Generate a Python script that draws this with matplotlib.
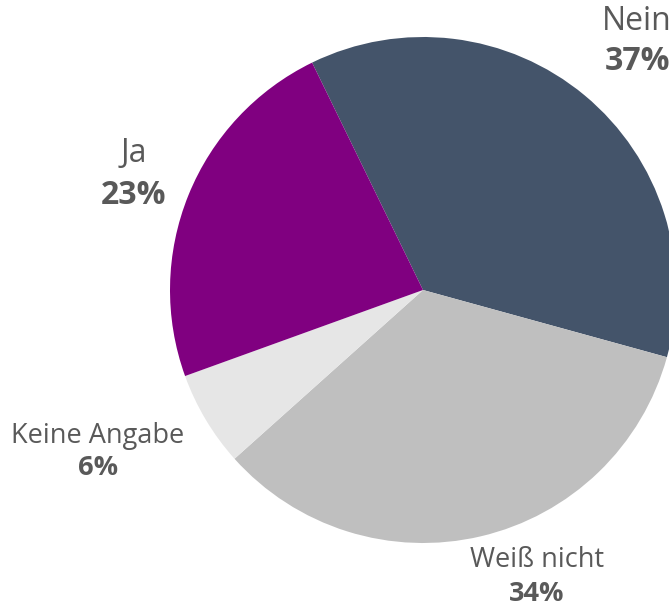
import matplotlib
matplotlib.use("Agg")
import matplotlib.pyplot as plt

categories = ["Nein", "Weiß nicht", "Keine Angabe", "Ja"]
values = [36.5, 34.1, 6.1, 23.3]
pct_labels = ["37%", "34%", "6%", "23%"]
colors = ["#44546A", "#BFBFBF", "#E6E6E6", "#800080"]

W, H = 669, 608
fig = plt.figure(figsize=(W / 100, H / 100), dpi=100)
ax = fig.add_axes([0, 0, 1, 1])

cx, cy, r = 423, H - 290, 253
ax.pie(values, colors=colors, startangle=116, counterclock=False,
       center=(cx, cy), radius=r, frame=True,
       wedgeprops=dict(linewidth=0))
ax.set_xlim(0, W)
ax.set_ylim(0, H)
ax.set_aspect("equal")
ax.axis("off")

# x, y of category, y of percentage, font size
label_pos = {
    "Nein": (637, 21, 62, 23),
    "Weiß nicht": (537, 560, 594, 19.5),
    "Keine Angabe": (98, 436, 468, 19.5),
    "Ja": (134, 154, 195, 23),
}
tc = "#595959"
for cat, pct in zip(categories, pct_labels):
    x, y1, y2, fs = label_pos[cat]
    ax.text(x, H - y1, cat, ha="center", va="center", fontsize=fs,
            family="Open Sans", color=tc)
    ax.text(x, H - y2, pct, ha="center", va="center", fontsize=fs,
            family="Open Sans", fontweight="bold", color=tc)

fig.savefig("out.png", dpi=100)
